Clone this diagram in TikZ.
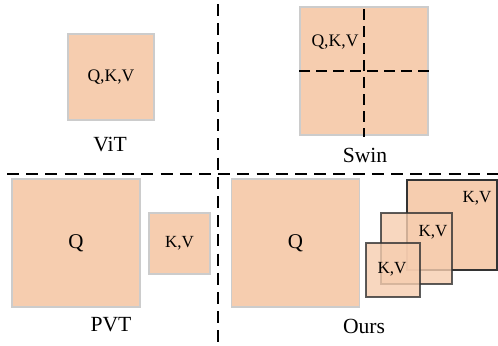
\documentclass[tikz,border=0pt]{standalone}
\usepackage{fontspec}
\setmainfont{Liberation Serif}
\usepackage{xcolor}
\usetikzlibrary{positioning}

\definecolor{peach}{HTML}{F6CDAF}
\definecolor{edgegray}{HTML}{CCCCCC}
\definecolor{edgedark}{HTML}{333333}

\begin{document}
\begin{tikzpicture}[
    x=0.5pt, y=-0.5pt,
    sq/.style={draw=edgegray, line width=0.6pt, fill=peach, inner sep=0pt, align=center},
    kvbox/.style={draw=edgedark, line width=0.7pt, fill=peach, inner sep=0pt},
    sepline/.style={line width=0.8pt, dash pattern=on 6pt off 3.6pt},
    winline/.style={line width=0.7pt, dash pattern=on 5.5pt off 3pt},
    lbl/.style={font=\fontsize{10.8}{13}\selectfont},
    qkv/.style={font=\fontsize{8.8}{11}\selectfont},
    qtxt/.style={font=\fontsize{10.5}{12}\selectfont},
    kvtxt/.style={font=\fontsize{8.5}{10}\selectfont},
  ]
    \useasboundingbox (0,0) rectangle (498,345);

    % ViT
    \node[sq, minimum size=43pt, qkv] (vit) at (111,77) {Q,K,V};
    \node[lbl] (vitlbl) at (110,145) {ViT};

    % Swin
    \node[sq, minimum size=64pt] (swin) at (364,71) {};
    \coordinate (swtop) at (364,9);
    \coordinate (swbot) at (364,137);
    \draw[winline] (swtop) -- (swbot);
    \draw[winline] (swin.west) -- (swin.east);
    \node[qkv] (swinqkv) at (335,42) {Q,K,V};
    \node[lbl] (swinlbl) at (365,155) {Swin};

    % PVT
    \node[sq, minimum size=64pt, qtxt] (pvtq) at (76,243) {Q};
    \node[sq, minimum size=30.5pt, kvtxt] (pvtkv) at (179.5,243.5) {K,V};
    \node[lbl] (pvtlbl) at (111,325) {PVT};

    % Ours
    \node[sq, minimum size=64pt, qtxt] (oursq) at (295.5,243) {Q};
    \node[kvbox, minimum size=45pt] (kvc) at (452,225) {};
    \node[kvbox, minimum size=35.5pt, opacity=0.8] (kvb) at (416.5,248.5) {};
    \node[kvbox, minimum size=27pt, opacity=0.8] (kva) at (393,270) {};
    \node[kvtxt] (kvctxt) at (477,198) {K,V};
    \node[kvtxt] (kvbtxt) at (433,232) {K,V};
    \node[kvtxt] (kvatxt) at (392,269) {K,V};
    \node[lbl] (ourslbl) at (364,326) {Ours};

    % quadrant separators
    \coordinate (vtop) at (218,4);
    \coordinate (vbot) at (218,345);
    \coordinate (hleft) at (7,174);
    \coordinate (hright) at (498,174);
    \draw[sepline] (vtop) -- (vbot);
    \draw[sepline] (hleft) -- (hright);
\end{tikzpicture}
\end{document}
